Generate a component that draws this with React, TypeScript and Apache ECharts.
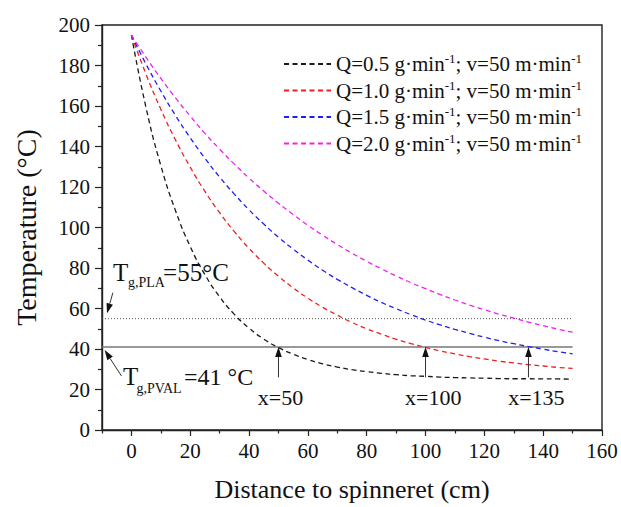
import React, { useEffect, useRef } from "react";
import * as echarts from "echarts";

// ---------- data ----------
const distance = [0, 5, 10, 15, 20, 25, 30, 35, 40, 45, 50, 55, 60, 65, 70, 75, 80, 85, 90, 95, 100, 105, 110, 115, 120, 125, 130, 135, 140, 145, 150];

const tempQ05 = [195, 159.0, 130.6, 108.3, 90.6, 76.7, 65.8, 57.1, 50.3, 44.9, 40.7, 37.4, 34.8, 32.7, 31.1, 29.8, 28.8, 28.0, 27.3, 26.8, 26.5, 26.1, 25.9, 25.7, 25.6, 25.4, 25.3, 25.3, 25.2, 25.2, 25.1];
const tempQ10 = [195, 175.6, 158.4, 143.2, 129.8, 117.8, 107.3, 98.0, 89.7, 82.4, 75.9, 70.2, 65.1, 60.6, 56.7, 53.1, 50.0, 47.3, 44.8, 42.7, 40.8, 39.0, 37.6, 36.2, 35.1, 34.0, 33.1, 32.3, 31.6, 30.9, 30.4];
const tempQ15 = [195, 180.6, 167.4, 155.3, 144.3, 134.2, 124.9, 116.5, 108.7, 101.7, 95.2, 89.3, 83.9, 78.9, 74.4, 70.3, 66.5, 63.0, 59.9, 57.0, 54.3, 51.9, 49.7, 47.7, 45.8, 44.1, 42.6, 41.2, 39.9, 38.7, 37.6];
const tempQ20 = [195, 184.0, 173.6, 164.0, 155.0, 146.5, 138.7, 131.3, 124.4, 118.0, 112.0, 106.4, 101.1, 96.2, 91.6, 87.3, 83.3, 79.6, 76.1, 72.8, 69.8, 66.9, 64.2, 61.7, 59.4, 57.2, 55.2, 53.3, 51.5, 49.8, 48.3];

const seriesNames = [
  "Q=0.5 g·min-1; v=50 m·min-1",
  "Q=1.0 g·min-1; v=50 m·min-1",
  "Q=1.5 g·min-1; v=50 m·min-1",
  "Q=2.0 g·min-1; v=50 m·min-1",
];
const seriesColors = ["#1a1a1a", "#f02020", "#2020f0", "#f020f0"];

const xMajorTicks = [0, 20, 40, 60, 80, 100, 120, 140, 160];
const xMinorTicks = [-10, 10, 30, 50, 70, 90, 110, 130, 150];

const tgPLA = 55;
const tgPVAL = 41;
const refLineX = [-10, 150];
const crossings = [50, 100, 135];
const crossLabelX = [50.7, 102.6, 137.7];

const SERIF = "Liberation Serif, serif";

export default function App() {
  const ref = useRef<HTMLDivElement>(null);

  useEffect(() => {
    const chart = echarts.init(ref.current!, null, { renderer: "svg" });
    const allSeries = [tempQ05, tempQ10, tempQ15, tempQ20];
    const axisColor = "#222";

    const option: any = {
      animation: false,
      backgroundColor: "#fff",
      textStyle: { fontFamily: SERIF },
      grid: {
        left: 102,
        right: 19,
        top: 25,
        bottom: 77,
        show: true,
        borderColor: axisColor,
        borderWidth: 1.4,
        backgroundColor: "transparent",
      },
      legend: {
        data: seriesNames,
        orient: "vertical",
        left: 278,
        top: 47,
        itemWidth: 47,
        itemHeight: 14,
        itemGap: 4,
        itemStyle: { opacity: 0 },
        formatter: (name: string) => {
          const parts = name.split("-1");
          return `{a|${parts[0]}}{s|-1}{a|${parts[1]}}{s|-1}`;
        },
        textStyle: {
          fontFamily: SERIF,
          color: "#111",
          rich: {
            a: { fontFamily: SERIF, fontSize: 21, lineHeight: 24, color: "#111" },
            s: { fontFamily: SERIF, fontSize: 13, verticalAlign: "top", color: "#111" },
          },
        },
      },
      xAxis: [
        {
          type: "value",
          min: -10,
          max: 160,
          name: "Distance to spinneret (cm)",
          nameLocation: "middle",
          nameGap: 46,
          nameTextStyle: { fontFamily: SERIF, fontSize: 26, color: "#111" },
          axisLine: { show: true, onZero: false, lineStyle: { color: axisColor, width: 1.4 } },
          axisTick: { show: true, length: 6, customValues: xMajorTicks, lineStyle: { color: axisColor, width: 1.2 } },
          axisLabel: { customValues: xMajorTicks, fontFamily: SERIF, fontSize: 21, color: "#111", margin: 10 },
          splitLine: { show: false },
        },
        {
          type: "value",
          min: -10,
          max: 160,
          position: "bottom",
          axisLine: { show: false, onZero: false },
          axisTick: { show: true, length: 3.5, customValues: xMinorTicks, lineStyle: { color: axisColor, width: 1.2 } },
          axisLabel: { show: false, customValues: xMinorTicks },
          splitLine: { show: false },
        },
      ],
      yAxis: {
        type: "value",
        min: 0,
        max: 200,
        interval: 20,
        name: "Temperature (°C)",
        nameLocation: "middle",
        nameGap: 62,
        nameTextStyle: { fontFamily: SERIF, fontSize: 28, color: "#111" },
        axisLine: { show: true, onZero: false, lineStyle: { color: axisColor, width: 1.4 } },
        axisTick: { show: true, length: 7, lineStyle: { color: axisColor, width: 1.2 } },
        minorTick: { show: true, splitNumber: 2, length: 4, lineStyle: { color: axisColor, width: 1.2 } },
        axisLabel: { fontFamily: SERIF, fontSize: 21, color: "#111", margin: 12 },
        splitLine: { show: false },
      },
      series: [
        ...allSeries.map((vals, i) => ({
          name: seriesNames[i],
          type: "line",
          xAxisIndex: 0,
          yAxisIndex: 0,
          data: distance.map((d, j) => [d, vals[j]]),
          showSymbol: false,
          symbol: "none",
          smooth: true,
          lineStyle: { color: seriesColors[i], width: 1.3, type: [5, 3.5] },
          itemStyle: { color: seriesColors[i] },
          z: 3,
        })),
        {
          name: "Tg,PLA",
          type: "line",
          data: refLineX.map((x) => [x, tgPLA]),
          symbol: "none",
          lineStyle: { color: "#555", width: 1, type: [1, 2] },
          z: 2,
        },
        {
          name: "Tg,PVAL",
          type: "line",
          data: refLineX.map((x) => [x, tgPVAL]),
          symbol: "none",
          lineStyle: { color: "#777", width: 1.3, type: "solid" },
          z: 2,
        },
      ],
    };

    chart.setOption(option);

    const px = (x: number, y: number) =>
      chart.convertToPixel({ xAxisIndex: 0, yAxisIndex: 0 }, [x, y]) as number[];

    const arrow = (tail: number[], head: number[]) => {
      const [x1, y1] = px(tail[0], tail[1]);
      const [x2, y2] = px(head[0], head[1]);
      const dx = x2 - x1;
      const dy = y2 - y1;
      const len = Math.hypot(dx, dy);
      const ux = dx / len;
      const uy = dy / len;
      const hl = 10;
      const hw = 3.3;
      const bx = x2 - ux * hl;
      const by = y2 - uy * hl;
      return [
        { type: "line", shape: { x1, y1, x2: bx, y2: by }, style: { stroke: "#333", lineWidth: 1 }, z: 10 },
        {
          type: "polygon",
          shape: { points: [[x2, y2], [bx - uy * hw, by + ux * hw], [bx + uy * hw, by - ux * hw]] },
          style: { fill: "#111" },
          z: 10,
        },
      ];
    };

    // text placed by alphabetic baseline (central = baseline - 0.3375 em)
    const txt = (text: string, x: number, y: number, size: number, align = "left") => {
      const [X, Y] = px(x, y);
      return {
        type: "text",
        x: X,
        y: Y - 0.3375 * size,
        z: 10,
        style: {
          text,
          fontFamily: SERIF,
          fontSize: size,
          fill: "#111",
          align,
          verticalAlign: "middle",
        },
      };
    };

    const graphics: any[] = [
      ...arrow([-6.3, 67.8], [-8.3, 57.6]),
      ...arrow([-3.4, 26.7], [-9.1, 39.5]),
      ...crossings.flatMap((c) => arrow([c, 26], [c, tgPVAL])),
      txt("T", -6.25, 73.6, 25),
      txt("g,PLA", -1.15, 70.6, 14),
      txt("=55°C", 10.75, 73.6, 25),
      txt("T", -2.85, 22.2, 25),
      txt("g,PVAL", 1.7, 18.3, 14),
      txt("=41 °C", 17.9, 22.2, 24),
      ...crossings.map((c, i) => txt(`x=${c}`, crossLabelX[i], 12.6, 22, "center")),
    ];

    chart.setOption({ graphic: graphics });

    return () => chart.dispose();
  }, []);

  return (
    <div
      ref={ref}
      style={{ position: "fixed", left: 0, top: 0, width: 621, height: 507, background: "#fff" }}
    />
  );
}
